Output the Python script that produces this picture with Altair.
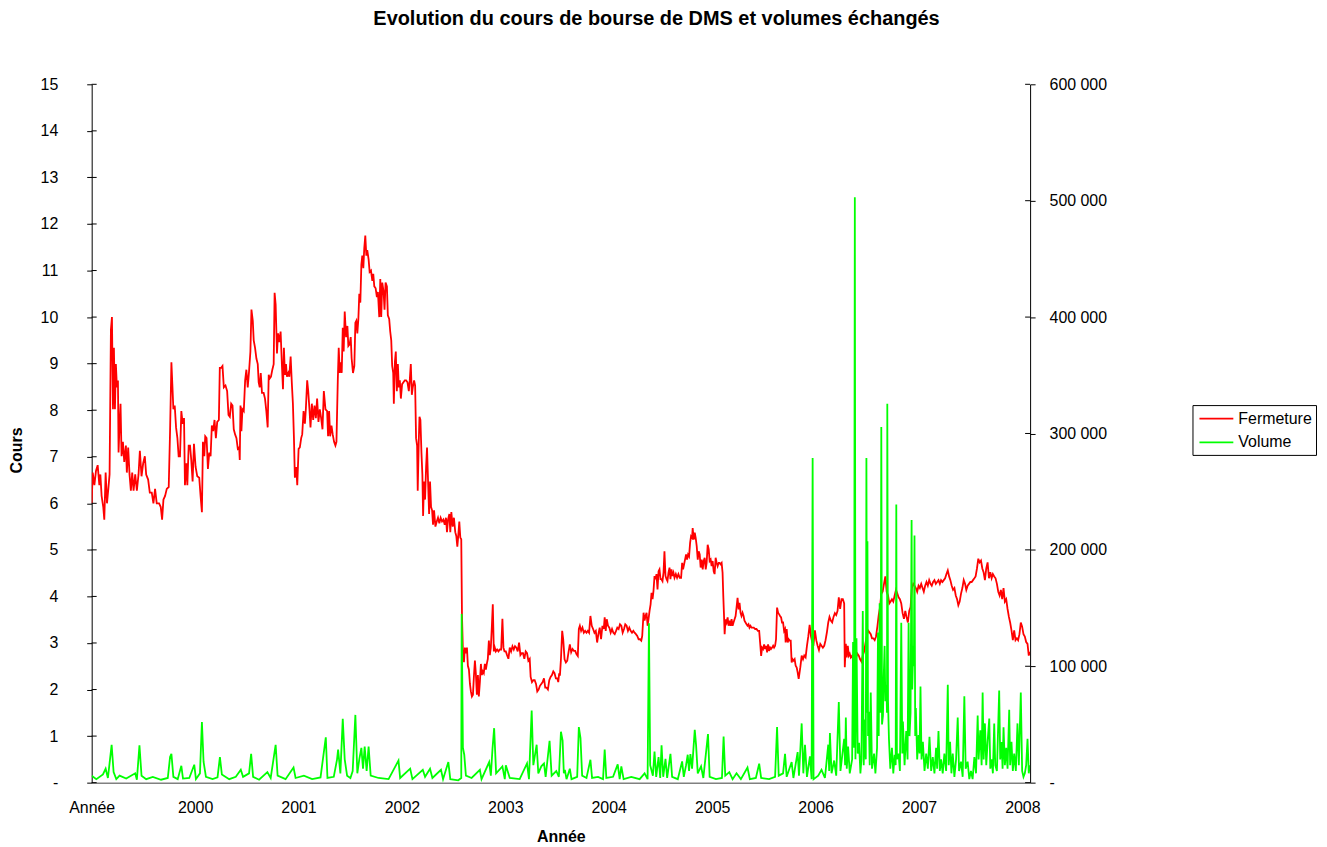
import altair as alt
import pandas as pd

FONT = "Liberation Sans"
TITLE = "Evolution du cours de bourse de DMS et volumes échangés"
X_TITLE = "Année"
Y_TITLE = "Cours"
SERIES = ["Fermeture", "Volume"]
SERIES_COLORS = ["#ff0000", "#00ff00"]

YEAR_TICKS = [1999, 2000, 2001, 2002, 2003, 2004, 2005, 2006, 2007, 2008]
YEAR_LABELS = ["Année", "2000", "2001", "2002", "2003", "2004", "2005", "2006", "2007", "2008"]
PRICE_TICKS = [0, 1, 2, 3, 4, 5, 6, 7, 8, 9, 10, 11, 12, 13, 14, 15]
PRICE_LABELS = ["-", "1", "2", "3", "4", "5", "6", "7", "8", "9", "10", "11", "12", "13", "14", "15"]
VOLUME_TICKS = [0, 100000, 200000, 300000, 400000, 500000, 600000]
VOLUME_LABELS = ["-", "100 000", "200 000", "300 000", "400 000", "500 000", "600 000"]

# Closing price (Fermeture), time in decimal years
PRICE_YEAR = [
    1999.000, 1999.010, 1999.026, 1999.042, 1999.058, 1999.074, 1999.084, 1999.096, 1999.112, 1999.122,
    1999.135, 1999.148, 1999.161, 1999.173, 1999.186, 1999.196, 1999.206, 1999.215, 1999.225, 1999.234,
    1999.244, 1999.254, 1999.260, 1999.270, 1999.279, 1999.289, 1999.302, 1999.315, 1999.331, 1999.340,
    1999.353, 1999.366, 1999.379, 1999.392, 1999.405, 1999.421, 1999.437, 1999.453, 1999.466, 1999.482,
    1999.498, 1999.514, 1999.527, 1999.546, 1999.562, 1999.581, 1999.597, 1999.613, 1999.629, 1999.652,
    1999.668, 1999.681, 1999.694, 1999.710, 1999.726, 1999.745, 1999.758, 1999.771, 1999.780, 1999.790,
    1999.803, 1999.816, 1999.829, 1999.841, 1999.854, 1999.867, 1999.880, 1999.893, 1999.902, 1999.915,
    1999.925, 1999.938, 1999.951, 1999.963, 1999.976, 1999.989, 2000.005, 2000.021, 2000.040, 2000.053,
    2000.066, 2000.076, 2000.089, 2000.098, 2000.111, 2000.124, 2000.137, 2000.150, 2000.162, 2000.175,
    2000.188, 2000.201, 2000.214, 2000.230, 2000.239, 2000.252, 2000.265, 2000.278, 2000.294, 2000.310,
    2000.323, 2000.336, 2000.349, 2000.362, 2000.374, 2000.387, 2000.400, 2000.413, 2000.426, 2000.432,
    2000.439, 2000.448, 2000.458, 2000.471, 2000.484, 2000.496, 2000.509, 2000.522, 2000.535, 2000.545,
    2000.558, 2000.567, 2000.580, 2000.593, 2000.606, 2000.615, 2000.625, 2000.635, 2000.647, 2000.663,
    2000.676, 2000.689, 2000.702, 2000.712, 2000.721, 2000.734, 2000.747, 2000.760, 2000.769, 2000.779,
    2000.792, 2000.802, 2000.814, 2000.827, 2000.840, 2000.850, 2000.859, 2000.869, 2000.879, 2000.888,
    2000.901, 2000.911, 2000.924, 2000.936, 2000.946, 2000.956, 2000.965, 2000.978, 2000.988, 2001.001,
    2001.013, 2001.026, 2001.036, 2001.049, 2001.062, 2001.071, 2001.084, 2001.094, 2001.106, 2001.116,
    2001.129, 2001.142, 2001.155, 2001.168, 2001.180, 2001.193, 2001.206, 2001.219, 2001.232,
    2001.245, 2001.261, 2001.277, 2001.286, 2001.296, 2001.306, 2001.319, 2001.331, 2001.344, 2001.357,
    2001.367, 2001.380, 2001.389, 2001.399, 2001.408, 2001.418, 2001.428, 2001.437, 2001.447, 2001.460,
    2001.473, 2001.482, 2001.495, 2001.505, 2001.514, 2001.527, 2001.540, 2001.550, 2001.559, 2001.569,
    2001.579, 2001.588, 2001.598, 2001.608, 2001.617, 2001.627, 2001.636, 2001.646, 2001.656, 2001.665,
    2001.678, 2001.688, 2001.701, 2001.714, 2001.723, 2001.733, 2001.746, 2001.758, 2001.768, 2001.781,
    2001.791, 2001.800, 2001.810, 2001.823, 2001.832, 2001.842, 2001.855, 2001.864, 2001.877, 2001.887,
    2001.897, 2001.906, 2001.916, 2001.922, 2001.932, 2001.941, 2001.951, 2001.961, 2001.970, 2001.980,
    2001.990, 2002.002, 2002.015, 2002.028, 2002.041, 2002.054, 2002.067, 2002.076, 2002.086, 2002.096,
    2002.105, 2002.118, 2002.128, 2002.137, 2002.147, 2002.153, 2002.163, 2002.170, 2002.179, 2002.189,
    2002.198, 2002.205, 2002.214, 2002.224, 2002.234, 2002.243, 2002.253, 2002.263, 2002.272, 2002.282,
    2002.292, 2002.301, 2002.311, 2002.324, 2002.337, 2002.349, 2002.362, 2002.375, 2002.388, 2002.401,
    2002.414, 2002.426, 2002.436, 2002.446, 2002.459, 2002.468, 2002.478, 2002.491, 2002.503, 2002.516,
    2002.526, 2002.536, 2002.545, 2002.555, 2002.565, 2002.574, 2002.581, 2002.590, 2002.600, 2002.609,
    2002.619, 2002.629, 2002.638, 2002.648, 2002.658, 2002.667, 2002.677, 2002.687, 2002.696, 2002.706,
    2002.715, 2002.725, 2002.735, 2002.744, 2002.754, 2002.764, 2002.773, 2002.783, 2002.792, 2002.802,
    2002.812, 2002.821, 2002.831, 2002.841, 2002.850, 2002.860, 2002.870, 2002.879, 2002.889, 2002.898,
    2002.908, 2002.921, 2002.934, 2002.947, 2002.960, 2002.972, 2002.982, 2002.992, 2003.005, 2003.017,
    2003.030, 2003.043, 2003.056, 2003.069, 2003.082, 2003.094, 2003.107, 2003.120, 2003.133, 2003.146,
    2003.159, 2003.171, 2003.184, 2003.197, 2003.210, 2003.223, 2003.236, 2003.245, 2003.258, 2003.271,
    2003.284, 2003.297, 2003.309, 2003.322, 2003.335, 2003.348, 2003.361, 2003.374, 2003.386, 2003.399,
    2003.412, 2003.425, 2003.438, 2003.451, 2003.464, 2003.476, 2003.489, 2003.502, 2003.512, 2003.521,
    2003.528, 2003.538, 2003.550, 2003.560, 2003.573, 2003.586, 2003.599, 2003.611, 2003.624, 2003.637,
    2003.650, 2003.663, 2003.676, 2003.688, 2003.701, 2003.711, 2003.721, 2003.733, 2003.746, 2003.759,
    2003.772, 2003.785, 2003.798, 2003.810, 2003.823, 2003.836, 2003.849, 2003.862, 2003.875, 2003.888,
    2003.900, 2003.913, 2003.926, 2003.939, 2003.952, 2003.961, 2003.971, 2003.981, 2003.993, 2004.006,
    2004.019, 2004.032, 2004.045, 2004.058, 2004.071, 2004.083, 2004.096, 2004.109, 2004.122, 2004.135,
    2004.148, 2004.160, 2004.173, 2004.186, 2004.199, 2004.212, 2004.225, 2004.238, 2004.250, 2004.263,
    2004.276, 2004.289, 2004.302, 2004.315, 2004.324, 2004.337, 2004.347, 2004.356, 2004.366, 2004.376,
    2004.385, 2004.395, 2004.405, 2004.414, 2004.424, 2004.433, 2004.443, 2004.453, 2004.462, 2004.472,
    2004.482, 2004.491, 2004.501, 2004.510, 2004.520, 2004.530, 2004.539, 2004.549, 2004.559, 2004.568,
    2004.578, 2004.588, 2004.597, 2004.607, 2004.616, 2004.626, 2004.636, 2004.649, 2004.661, 2004.674,
    2004.687, 2004.700, 2004.710, 2004.719, 2004.729, 2004.738, 2004.748, 2004.758, 2004.767, 2004.777,
    2004.787, 2004.796, 2004.806, 2004.812, 2004.822, 2004.832, 2004.841, 2004.851, 2004.861, 2004.870,
    2004.880, 2004.889, 2004.899, 2004.909, 2004.918, 2004.928, 2004.938, 2004.947, 2004.957, 2004.967,
    2004.976, 2004.986, 2004.995, 2005.005, 2005.015, 2005.024, 2005.034, 2005.044, 2005.053, 2005.063,
    2005.072, 2005.082, 2005.092, 2005.101, 2005.108, 2005.114, 2005.121, 2005.130, 2005.140, 2005.150,
    2005.159, 2005.169, 2005.179, 2005.188, 2005.198, 2005.207, 2005.217, 2005.227, 2005.236, 2005.246,
    2005.256, 2005.265, 2005.275, 2005.284, 2005.294, 2005.304, 2005.313, 2005.323, 2005.333, 2005.342,
    2005.352, 2005.361, 2005.371, 2005.381, 2005.390, 2005.403, 2005.416, 2005.429, 2005.442, 2005.455,
    2005.464, 2005.474, 2005.483, 2005.493, 2005.503, 2005.512, 2005.522, 2005.532, 2005.541, 2005.551,
    2005.561, 2005.570, 2005.580, 2005.590, 2005.599, 2005.609, 2005.618, 2005.628, 2005.638, 2005.647,
    2005.657, 2005.667, 2005.676, 2005.686, 2005.696, 2005.705, 2005.711, 2005.721, 2005.731, 2005.740,
    2005.750, 2005.760, 2005.769, 2005.779, 2005.789, 2005.798, 2005.808, 2005.818, 2005.827, 2005.837,
    2005.853, 2005.866, 2005.879, 2005.891, 2005.904, 2005.917, 2005.930, 2005.943, 2005.956, 2005.968,
    2005.981, 2005.994, 2006.007, 2006.020, 2006.033, 2006.046, 2006.058, 2006.071, 2006.084, 2006.097,
    2006.110, 2006.123, 2006.135, 2006.148, 2006.161, 2006.174, 2006.187, 2006.200, 2006.213, 2006.225,
    2006.238, 2006.251, 2006.264, 2006.277, 2006.283, 2006.293, 2006.302, 2006.312, 2006.322, 2006.331,
    2006.341, 2006.354, 2006.367, 2006.379, 2006.392, 2006.405, 2006.418, 2006.431, 2006.444, 2006.457,
    2006.469, 2006.482, 2006.495, 2006.508, 2006.521, 2006.534, 2006.546, 2006.559, 2006.572, 2006.585,
    2006.598, 2006.611, 2006.624, 2006.636, 2006.649, 2006.662, 2006.675, 2006.688, 2006.701, 2006.714,
    2006.726, 2006.739, 2006.752, 2006.765, 2006.778, 2006.791, 2006.803, 2006.816, 2006.829, 2006.842,
    2006.855, 2006.868, 2006.880, 2006.893, 2006.906, 2006.919, 2006.932, 2006.945, 2006.957, 2006.970,
    2006.983, 2006.996, 2007.009, 2007.022, 2007.035, 2007.047, 2007.060, 2007.073, 2007.086, 2007.099,
    2007.112, 2007.124, 2007.137, 2007.150, 2007.163, 2007.176, 2007.189, 2007.202, 2007.214, 2007.227,
    2007.240, 2007.253, 2007.266, 2007.279, 2007.292, 2007.304, 2007.317, 2007.330, 2007.343, 2007.356,
    2007.369, 2007.381, 2007.394, 2007.407, 2007.420, 2007.433, 2007.446, 2007.458, 2007.471, 2007.484,
    2007.497, 2007.510, 2007.523, 2007.536, 2007.548, 2007.561, 2007.574, 2007.587, 2007.600, 2007.613,
    2007.625, 2007.638, 2007.651, 2007.664, 2007.677, 2007.690, 2007.703, 2007.715, 2007.728, 2007.741,
    2007.754, 2007.767, 2007.780, 2007.792, 2007.805, 2007.818, 2007.831, 2007.844, 2007.857, 2007.870,
    2007.882, 2007.895, 2007.908, 2007.921, 2007.934, 2007.947, 2007.959, 2007.972, 2007.985, 2007.998,
    2008.011, 2008.024, 2008.037, 2008.050, 2008.062, 2008.072,
]
PRICE_CLOSE = [
    6.00, 6.66, 6.39, 6.70, 6.82, 6.39, 6.62, 6.16, 5.92, 5.65,
    6.66, 6.00, 6.31, 6.62, 9.73, 10.00, 8.02, 9.34, 8.02, 8.99,
    8.49, 8.64, 7.09, 7.71, 8.14, 7.01, 7.32, 6.89, 7.24, 6.66,
    7.20, 6.62, 6.27, 6.66, 6.27, 6.62, 6.27, 6.62, 7.13, 6.58,
    6.86, 7.01, 6.62, 6.51, 6.23, 6.23, 6.00, 6.31, 6.00, 6.00,
    5.92, 5.65, 6.08, 6.16, 6.31, 6.35, 7.55, 9.03, 8.56, 8.02,
    8.10, 7.63, 7.40, 7.01, 7.01, 7.98, 7.71, 7.83, 6.39, 6.86,
    6.39, 7.24, 7.24, 6.93, 6.47, 7.28, 6.78, 6.58, 6.55, 6.16,
    5.81, 7.32, 7.01, 7.44, 7.40, 6.74, 7.09, 7.01, 7.67, 7.55,
    7.79, 7.40, 7.75, 7.79, 8.91, 8.91, 8.95, 8.49, 8.53, 8.41,
    7.90, 7.86, 8.14, 8.10, 7.59, 7.48, 7.40, 7.17, 7.20, 6.93,
    8.10, 7.55, 8.02, 7.98, 8.64, 8.87, 8.49, 8.84, 9.26, 10.16,
    9.92, 9.50, 9.34, 9.11, 8.99, 8.60, 8.49, 8.80, 8.37, 8.37,
    8.25, 7.98, 7.63, 8.76, 8.68, 8.72, 8.87, 8.99, 10.52, 10.27,
    9.22, 9.65, 9.46, 9.69, 8.95, 8.45, 9.34, 8.76, 8.99, 8.72,
    8.80, 8.72, 9.15, 8.56, 8.14, 7.40, 6.55, 6.78, 6.39, 7.17,
    7.20, 7.40, 7.48, 7.98, 7.71, 8.02, 8.64, 8.41, 8.02, 7.63,
    8.14, 7.79, 8.10, 7.83, 8.25, 7.75, 8.02, 7.83, 7.59,
    8.41, 8.02, 7.98, 7.44, 7.98, 7.44, 7.67, 7.48, 7.32, 7.24,
    7.32, 8.64, 9.34, 8.80, 9.03, 8.80, 9.77, 9.26, 10.12, 9.57,
    9.81, 9.38, 9.42, 9.57, 9.11, 8.80, 8.95, 9.88, 9.92, 9.65,
    9.96, 10.50, 10.31, 11.13, 11.32, 11.05, 11.48, 11.75, 11.32, 11.44,
    11.24, 10.97, 11.00, 10.78, 10.93, 10.66, 10.62, 10.43, 10.54, 10.00,
    10.82, 10.00, 10.74, 10.54, 10.16, 10.74, 10.66, 10.04, 9.96, 9.69,
    9.50, 8.95, 8.80, 8.14, 9.03, 9.26, 8.41, 8.99, 8.49, 8.64,
    8.25, 8.56, 8.60, 8.64, 8.64, 8.60, 8.41, 8.64, 8.99, 8.33,
    8.49, 8.64, 8.53, 7.40, 7.24, 6.27, 7.32, 7.86, 7.79, 7.09,
    6.62, 5.73, 6.47, 6.08, 6.78, 7.20, 6.47, 5.77, 6.47, 5.92,
    5.85, 5.54, 5.85, 5.50, 5.61, 5.69, 5.57, 5.69, 5.61, 5.65,
    5.54, 5.69, 5.38, 5.65, 5.77, 5.38, 5.81, 5.50, 5.69, 5.38,
    5.30, 5.07, 5.30, 5.61, 5.26, 5.23, 3.59, 2.82, 2.59, 2.90,
    2.78, 2.90, 2.51, 2.43, 2.12, 1.96, 1.85, 1.89, 2.27, 2.62,
    2.35, 1.89, 2.31, 1.85, 2.16, 2.55, 2.31, 2.39, 2.35, 2.55,
    2.43, 2.55, 2.66, 3.05, 2.74, 2.90, 3.36, 3.83, 2.82, 2.90,
    2.82, 2.86, 2.82, 2.86, 2.86, 3.52, 2.90, 2.82, 2.82, 2.74,
    2.66, 2.90, 2.82, 2.93, 2.86, 2.93, 2.90, 2.82, 3.01, 2.74,
    2.78, 2.78, 2.66, 2.82, 2.78, 2.62, 2.66, 2.27, 2.16, 2.20,
    2.20, 2.12, 1.96, 2.00, 2.08, 2.12, 2.16, 2.24, 2.04, 2.04,
    2.00, 2.20, 2.27, 2.31, 2.39, 2.35, 2.24, 2.24, 2.16, 2.35,
    2.30, 2.65, 3.26, 3.08, 2.65, 2.58, 2.62, 2.80, 2.97, 2.80,
    2.87, 2.83, 2.83, 2.76, 2.72, 3.30, 3.37, 3.26, 3.33, 3.22,
    3.26, 3.22, 3.26, 3.22, 3.58, 3.37, 3.30, 3.22, 3.26, 3.01,
    3.19, 3.33, 3.08, 3.37, 3.30, 3.55, 3.26, 3.51, 3.37, 3.33,
    3.22, 3.30, 3.22, 3.19, 3.26, 3.33, 3.30, 3.40, 3.37, 3.22,
    3.30, 3.40, 3.37, 3.26, 3.33, 3.26, 3.22, 3.26, 3.22, 3.19,
    3.15, 3.08, 3.08, 3.05, 3.15, 3.65, 3.48, 3.58, 3.65, 3.37,
    3.51, 3.69, 3.83, 4.08, 3.94, 4.12, 4.44, 4.37, 4.48, 4.15,
    4.54, 4.58, 4.37, 4.37, 4.33, 4.51, 4.97, 4.44, 4.37, 4.33,
    4.51, 4.62, 4.37, 4.58, 4.44, 4.51, 4.40, 4.48, 4.40, 4.48,
    4.40, 4.40, 4.72, 4.58, 4.69, 4.79, 4.90, 4.79, 4.90, 4.86,
    5.15, 5.29, 5.26, 5.47, 5.22, 5.37, 5.26, 5.08, 4.79, 4.97,
    4.90, 4.62, 4.79, 4.58, 4.76, 4.83, 4.58, 4.72, 5.11, 5.01,
    4.76, 4.79, 4.65, 4.76, 4.54, 4.48, 4.83, 4.72, 4.65, 4.72,
    4.72, 4.69, 4.72, 4.51, 4.01, 3.65, 3.19, 3.51, 3.44, 3.55,
    3.37, 3.48, 3.37, 3.51, 3.37, 3.44, 3.51, 3.58, 3.76, 3.97,
    3.72, 3.86, 3.65, 3.58, 3.65, 3.58, 3.48, 3.44, 3.40, 3.37,
    3.40, 3.33, 3.37, 3.33, 3.33, 3.33, 3.30, 3.30, 3.26, 3.26,
    3.01, 2.72, 2.90, 2.87, 2.97, 2.87, 2.94, 2.80, 2.97, 2.83,
    2.90, 2.87, 2.90, 2.94, 2.90, 2.94, 3.08, 3.76, 3.65, 3.62,
    3.58, 3.55, 3.44, 3.44, 3.26, 3.30, 3.01, 3.30, 3.01, 3.08,
    3.05, 3.05, 2.58, 2.65, 2.62, 2.65, 2.51, 2.47, 2.37, 2.23,
    2.48, 2.73, 2.65, 2.73, 2.69, 2.94, 3.14, 3.39, 3.14, 3.02,
    2.98, 3.27, 3.06, 2.94, 2.85, 2.98, 2.94, 2.90, 2.94, 3.06,
    3.23, 3.44, 3.56, 3.48, 3.44, 3.56, 3.64, 3.60, 3.69, 3.98,
    3.73, 3.94, 3.94, 3.85, 2.48, 2.98, 2.69, 2.94, 2.73, 2.77,
    2.69, 2.73, 2.60, 2.73, 2.69, 2.77, 2.73, 2.65, 2.60, 2.73,
    2.81, 2.98, 3.14, 3.27, 3.23, 3.19, 3.10, 3.10, 3.06, 3.14,
    3.35, 3.60, 3.77, 4.06, 4.10, 4.27, 4.43, 4.10, 4.02, 3.85,
    3.89, 3.94, 3.89, 4.02, 4.14, 4.06, 3.98, 3.94, 3.85, 3.64,
    3.52, 3.69, 3.56, 3.44, 3.69, 3.77, 4.18, 4.27, 4.23, 4.18,
    4.10, 4.23, 4.18, 4.27, 4.18, 4.10, 4.23, 4.31, 4.23, 4.35,
    4.27, 4.23, 4.31, 4.35, 4.27, 4.31, 4.35, 4.27, 4.35, 4.31,
    4.35, 4.39, 4.48, 4.56, 4.43, 4.35, 4.23, 4.14, 4.18, 4.02,
    3.94, 3.81, 3.89, 4.06, 4.18, 4.35, 4.27, 4.14, 4.23, 4.27,
    4.31, 4.31, 4.35, 4.39, 4.43, 4.60, 4.81, 4.73, 4.77, 4.60,
    4.52, 4.35, 4.60, 4.73, 4.39, 4.52, 4.39, 4.48, 4.43, 4.39,
    4.27, 4.10, 4.02, 4.14, 3.94, 4.18, 3.89, 3.94, 3.73, 3.56,
    3.44, 3.27, 3.06, 3.27, 3.06, 3.10, 3.06, 3.19, 3.44, 3.35,
    3.19, 3.14, 3.02, 2.98, 2.73, 2.81,
]

# Traded volume (Volume), time in decimal years
VOLUME_YEAR = [
    1999.000, 1999.045, 1999.109, 1999.135, 1999.157, 1999.193, 1999.212, 1999.238, 1999.270, 1999.334,
    1999.421, 1999.437, 1999.462, 1999.482, 1999.527, 1999.591, 1999.671, 1999.736, 1999.758, 1999.771,
    1999.790, 1999.832, 1999.867, 1999.883, 1999.944, 1999.992, 2000.008, 2000.047, 2000.066, 2000.082,
    2000.105, 2000.169, 2000.217, 2000.240, 2000.259, 2000.330, 2000.394, 2000.442, 2000.464, 2000.522,
    2000.542, 2000.561, 2000.619, 2000.699, 2000.731, 2000.779, 2000.798, 2000.875, 2000.952, 2000.972,
    2001.052, 2001.132, 2001.213, 2001.264, 2001.280, 2001.341, 2001.373, 2001.383, 2001.405, 2001.428,
    2001.447, 2001.470, 2001.502, 2001.524, 2001.550, 2001.569, 2001.588, 2001.608, 2001.624, 2001.640,
    2001.659, 2001.678, 2001.698, 2001.774, 2001.871, 2001.967, 2001.983, 2002.080, 2002.102, 2002.202,
    2002.224, 2002.272, 2002.295, 2002.378, 2002.398, 2002.449, 2002.468, 2002.545, 2002.574, 2002.578,
    2002.590, 2002.603, 2002.619, 2002.674, 2002.754, 2002.770, 2002.844, 2002.860, 2002.876, 2002.892,
    2002.911, 2002.972, 2002.995, 2003.005, 2003.043, 2003.139, 2003.210, 2003.229, 2003.255, 2003.271,
    2003.303, 2003.319, 2003.348, 2003.374, 2003.390, 2003.428, 2003.448, 2003.493, 2003.518, 2003.538,
    2003.554, 2003.566, 2003.576, 2003.592, 2003.624, 2003.640, 2003.695, 2003.711, 2003.727, 2003.743,
    2003.785, 2003.823, 2003.839, 2003.897, 2003.945, 2003.961, 2003.977, 2004.042, 2004.087, 2004.106,
    2004.122, 2004.144, 2004.218, 2004.299, 2004.347, 2004.376, 2004.389, 2004.401, 2004.427, 2004.443,
    2004.459, 2004.482, 2004.498, 2004.511, 2004.527, 2004.549, 2004.565, 2004.597, 2004.613, 2004.668,
    2004.710, 2004.726, 2004.748, 2004.764, 2004.777, 2004.790, 2004.806, 2004.832, 2004.845, 2004.861,
    2004.893, 2004.915, 2004.960, 2004.976, 2005.037, 2005.095, 2005.111, 2005.127, 2005.166, 2005.198,
    2005.236, 2005.278, 2005.342, 2005.365, 2005.423, 2005.455, 2005.474, 2005.551, 2005.609, 2005.628,
    2005.644, 2005.686, 2005.705, 2005.721, 2005.769, 2005.786, 2005.827, 2005.840, 2005.866, 2005.882,
    2005.898, 2005.917, 2005.946, 2005.962, 2005.972, 2005.981, 2006.026, 2006.058, 2006.091, 2006.123,
    2006.132, 2006.139, 2006.155, 2006.180, 2006.200, 2006.225, 2006.241, 2006.277, 2006.286, 2006.293,
    2006.302, 2006.315, 2006.331, 2006.354, 2006.363, 2006.373, 2006.380, 2006.386, 2006.396, 2006.408,
    2006.421, 2006.434, 2006.444, 2006.457, 2006.466, 2006.476, 2006.486, 2006.492, 2006.498, 2006.502,
    2006.508, 2006.514, 2006.524, 2006.534, 2006.546, 2006.566, 2006.579, 2006.595, 2006.604, 2006.611,
    2006.620, 2006.630, 2006.636, 2006.643, 2006.652, 2006.659, 2006.668, 2006.675, 2006.685, 2006.691,
    2006.694, 2006.701, 2006.710, 2006.723, 2006.739, 2006.752, 2006.765, 2006.775, 2006.781, 2006.787,
    2006.803, 2006.816, 2006.829, 2006.839, 2006.845, 2006.861, 2006.877, 2006.890, 2006.900, 2006.909,
    2006.919, 2006.929, 2006.935, 2006.945, 2006.951, 2006.957, 2006.964, 2006.970, 2006.983, 2006.996,
    2007.006, 2007.015, 2007.025, 2007.038, 2007.054, 2007.070, 2007.086, 2007.102, 2007.118, 2007.134,
    2007.150, 2007.166, 2007.176, 2007.189, 2007.202, 2007.214, 2007.230, 2007.246, 2007.263, 2007.279,
    2007.288, 2007.301, 2007.314, 2007.327, 2007.343, 2007.359, 2007.375, 2007.388, 2007.407, 2007.423,
    2007.439, 2007.452, 2007.471, 2007.487, 2007.503, 2007.519, 2007.536, 2007.552, 2007.568, 2007.577,
    2007.593, 2007.606, 2007.616, 2007.626, 2007.638, 2007.651, 2007.664, 2007.680, 2007.690, 2007.703,
    2007.715, 2007.728, 2007.738, 2007.754, 2007.776, 2007.786, 2007.799, 2007.809, 2007.818, 2007.831,
    2007.844, 2007.857, 2007.873, 2007.882, 2007.895, 2007.908, 2007.921, 2007.937, 2007.953, 2007.966,
    2007.985, 2007.998, 2008.011, 2008.024, 2008.037, 2008.050, 2008.062, 2008.072,
]
VOLUME_VALUE = [
    6000, 3000, 7000, 12000, 4000, 32500, 9000, 3000, 6000, 3500,
    8000, 2500, 32000, 6000, 3000, 5000, 2500, 4000, 22000, 24800,
    5000, 3000, 14500, 3500, 4000, 15400, 3000, 8000, 52000, 18000,
    5000, 3000, 4500, 22000, 7000, 3000, 5000, 11000, 5000, 8000,
    24800, 5000, 2500, 9000, 4000, 32500, 6000, 3000, 13000, 4000,
    6000, 3000, 4500, 39000, 4000, 5000, 20000, 28500, 8000, 54800,
    20000, 6000, 4000, 10000, 58200, 8000, 20000, 29900, 12000, 31000,
    10000, 31000, 6000, 4000, 3000, 19000, 4000, 12000, 3000, 11000,
    5000, 12000, 4000, 11000, 3000, 17700, 3000, 2000, 4000, 145000,
    30000, 24000, 6000, 4000, 11000, 3000, 17700, 6000, 29000, 46800,
    8000, 14000, 3000, 14900, 4000, 3000, 16500, 3000, 62000, 15000,
    32600, 8000, 14000, 16500, 5000, 36000, 6000, 10000, 5000, 43800,
    36200, 8000, 11000, 3000, 12000, 3000, 5000, 47700, 38200, 6000,
    4000, 19700, 4000, 5000, 3000, 28500, 4000, 5000, 15700, 3000,
    14000, 3000, 5000, 3000, 8000, 3000, 137000, 15000, 6000, 26800,
    5000, 22000, 4000, 32000, 5000, 20500, 4000, 24800, 5000, 3000,
    18300, 5000, 15000, 24000, 10000, 24500, 12000, 45400, 32000, 8000,
    14000, 4000, 41700, 5000, 3000, 4000, 39700, 6000, 9000, 3000,
    8000, 3000, 13000, 3000, 4000, 16300, 4000, 3000, 5000, 47700,
    6000, 8000, 24800, 5000, 17700, 4000, 26300, 6000, 50900, 8000,
    32600, 5000, 22600, 3000, 278900, 3000, 6000, 11000, 4000, 32600,
    10000, 42600, 8000, 19000, 6000, 69200, 10000, 37600, 15000, 55900,
    12000, 31000, 8000, 20000, 120800, 30000, 502900, 20000, 124100, 25000,
    34300, 8000, 20000, 147400, 15000, 54200, 20000, 278900, 60000, 207300,
    40000, 60900, 15000, 77500, 12000, 25000, 8000, 30000, 129100, 40000,
    154100, 60000, 305500, 50000, 57600, 90000, 117500, 70000, 84200, 60000,
    325500, 70000, 37600, 12000, 30000, 8000, 24000, 15000, 239000, 20000,
    25000, 10000, 137400, 25000, 52600, 15000, 44300, 20000, 137400, 40000,
    60000, 225600, 80000, 117500, 100000, 212300, 40000, 64200, 20000, 40900,
    25000, 82500, 20000, 35000, 10000, 25000, 12000, 39300, 10000, 22000,
    8000, 30000, 12000, 44300, 10000, 20000, 8000, 25000, 10000, 84200,
    15000, 35000, 8000, 25000, 5000, 20000, 55900, 10000, 18000, 5000,
    74200, 12000, 18000, 3000, 10000, 3000, 22000, 8000, 57600, 20000,
    45000, 15000, 77500, 20000, 50900, 15000, 35000, 55000, 12000, 20000,
    8000, 50900, 15000, 10000, 79200, 20000, 35000, 12000, 47600, 15000,
    30000, 12000, 62600, 15000, 35000, 10000, 25000, 10000, 50900, 15000,
    77500, 10000, 5000, 8000, 15000, 37600, 8000, 15000,
]


def label_expr(ticks, labels):
    arr_labels = "[" + ",".join("'" + s + "'" for s in labels) + "]"
    arr_ticks = "[" + ",".join(str(t) for t in ticks) + "]"
    return arr_labels + "[indexof(" + arr_ticks + ", datum.value)]"


price_df = pd.DataFrame({"t": PRICE_YEAR, "v": PRICE_CLOSE, "serie": SERIES[0]})
vol_df = pd.DataFrame({"t": VOLUME_YEAR, "v": VOLUME_VALUE, "serie": SERIES[1]})
price_ticks_df = pd.DataFrame({"v": PRICE_TICKS})
vol_ticks_df = pd.DataFrame({"v": VOLUME_TICKS})

W, H = 942, 701

x_enc = alt.X(
    "t:Q",
    scale=alt.Scale(domain=[1999, 2008.075], nice=False, zero=False),
    axis=alt.Axis(
        values=YEAR_TICKS, labelExpr=label_expr(YEAR_TICKS, YEAR_LABELS),
        title=X_TITLE, grid=False, ticks=False, tickSize=0,
        labelPadding=25, labelBaseline="middle", labelFontSize=16, labelFont=FONT,
        labelColor="black", labelFlush=False, labelOverlap=False,
        titleFontSize=16, titleFont=FONT, titleFontWeight="bold", titleColor="black",
        titleY=54, titleBaseline="middle",
        domainColor="#808080", domainWidth=1.5,
    ),
)

price_scale = alt.Scale(domain=[0, 15], nice=False, zero=True)
vol_scale = alt.Scale(domain=[0, 600000], nice=False, zero=True)

price_axis = alt.Axis(
    orient="left", values=PRICE_TICKS, labelExpr=label_expr(PRICE_TICKS, PRICE_LABELS),
    title=Y_TITLE, grid=False, tickSize=5, tickColor="black", tickWidth=1,
    labelPadding=29, labelFontSize=16, labelFont=FONT, labelColor="black",
    titleFontSize=16, titleFont=FONT, titleFontWeight="bold", titleColor="black",
    titleX=-75, titleY=367, titleBaseline="middle",
    domainColor="black", domainWidth=1,
)
vol_axis = alt.Axis(
    orient="right", values=VOLUME_TICKS, labelExpr=label_expr(VOLUME_TICKS, VOLUME_LABELS),
    title=None, grid=False, tickSize=5, tickColor="black", tickWidth=1,
    labelPadding=14, labelFontSize=16, labelFont=FONT, labelColor="black",
    domainColor="black", domainWidth=1,
)

legend = alt.Legend(
    title=None, orient="none", legendX=1105, legendY=322,
    symbolType="M-2,0H2", symbolSize=289, symbolStrokeWidth=1.8, symbolOffset=10.5,
    labelFontSize=16, labelFont=FONT, labelColor="black", labelOffset=12.5,
    strokeColor="black", fillColor="white", padding=4, rowPadding=6,
)
color = alt.Color("serie:N", scale=alt.Scale(domain=SERIES, range=SERIES_COLORS), legend=legend)

no_border = alt.ViewBackground(stroke="transparent", strokeWidth=0, strokeOpacity=0)

price_line = alt.Chart(price_df).mark_line(strokeWidth=1.8, clip=True).encode(
    x=x_enc, y=alt.Y("v:Q", scale=price_scale, axis=price_axis), color=color
)
left_ticks = alt.Chart(price_ticks_df).mark_rule(color="black", strokeWidth=1).encode(
    x=alt.value(0), x2=alt.value(5), y=alt.Y("v:Q", scale=price_scale, axis=price_axis)
)
vol_line = alt.Chart(vol_df).mark_line(strokeWidth=1.8, clip=True).encode(
    x=x_enc, y=alt.Y("v:Q", scale=vol_scale, axis=vol_axis), color=color
)
right_ticks = alt.Chart(vol_ticks_df).mark_rule(color="black", strokeWidth=1).encode(
    x=alt.value(W - 5), x2=alt.value(W), y=alt.Y("v:Q", scale=vol_scale, axis=vol_axis)
)

left = alt.layer(price_line, left_ticks)
right = alt.layer(vol_line, right_ticks)

chart = (
    alt.layer(left, right)
    .resolve_scale(y="independent")
    .properties(
        width=W, height=H,
        view=no_border,
        title=alt.Title(
            TITLE, fontSize=20, fontWeight="bold", font=FONT, color="black",
            anchor="middle", frame="group", dx=96, offset=48,
        ),
        padding={"left": 84, "top": 75, "right": 290, "bottom": 64},
        autosize=alt.AutoSizeParams(type="none"),
    )
    .configure_view(stroke="transparent", strokeWidth=0, strokeOpacity=0)
    .configure_axis(grid=False)
    .configure(font=FONT)
)

chart.save("out.html", embed_options={"renderer": "svg", "actions": False})
